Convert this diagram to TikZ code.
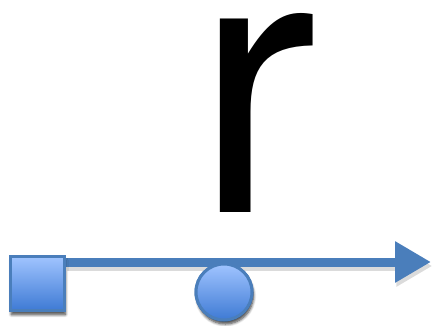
\documentclass[tikz,border=0pt]{standalone}
\usepackage{fontspec}
\setmainfont{TeX Gyre Heros}
\usetikzlibrary{arrows.meta,shadows.blur}
\definecolor{edgeblue}{RGB}{74,126,187}
\definecolor{topblue}{RGB}{160,196,255}
\definecolor{botblue}{RGB}{62,122,212}
\begin{document}
\begin{tikzpicture}[
  x=0.75pt, y=-0.75pt,
  marker/.style={draw=edgeblue, line width=2.25pt, top color=topblue,
                 bottom color=botblue, inner sep=0pt,
                 blur shadow={shadow xshift=1pt, shadow yshift=-3pt,
                              shadow blur steps=6, shadow opacity=45}},
  axisline/.style={line width=6.75pt,
                   -{Triangle[length=27pt, width=29.25pt]}},
]
  \useasboundingbox (0,0) rectangle (432,325);

  % Big letter above the axis
  \node[inner sep=0pt, anchor=base, font=\fontsize{277}{277}\selectfont]
    (letter) at (256,212) {r};

  % Axis with its shadow
  \coordinate (tip) at (431,262);
  \node[marker, minimum size=40.5pt] (start) at (37,283.5) {};
  \node[marker, circle, minimum size=42pt] (dot) at (224,292) {};
  \draw[axisline, draw=black!40, fill=black!40, opacity=0.35,
        transform canvas={xshift=1pt, yshift=-3pt}]
    (start.east |- tip) -- (tip);
  \draw[axisline, draw=edgeblue, fill=edgeblue] (start.east |- tip) -- (tip);

  % Markers on top of the axis
  \node[marker, minimum size=40.5pt] at (start) {};
  \node[marker, circle, minimum size=42pt] at (dot) {};
\end{tikzpicture}
\end{document}
